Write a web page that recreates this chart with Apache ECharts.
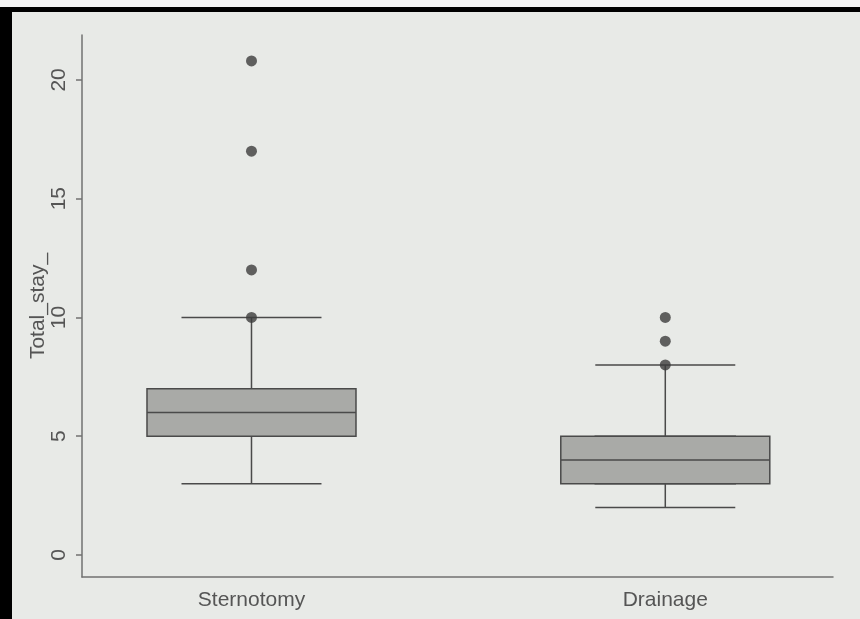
<!DOCTYPE html>
<html>
<head>
<meta charset="utf-8">
<script src="https://cdn.jsdelivr.net/npm/echarts@6/dist/echarts.min.js"></script>
<style>
html,body{margin:0;padding:0;background:#e8eae7;}
#chart{width:860px;height:619px;}
</style>
</head>
<body>
<div id="chart"></div>
<script>
// Data
const categories = ['Sternotomy', 'Drainage'];
const categoryPos = [1, 2];
// [min whisker, Q1, median, Q3, max whisker]
const boxStats = [
  [3, 5, 6, 7, 10],
  [2, 3, 4, 5, 8]
];
const outliersSternotomy = [10, 12, 17, 20.8];
const outliersDrainage = [8, 9, 10];
const yTicks = [0, 5, 10, 15, 20];
const yTitle = 'Total_stay_';

const whiskerData = boxStats.map((s, i) => [categoryPos[i]].concat(s));
const boxData = boxStats.map((s, i) => [categoryPos[i], s[1], s[1], s[2], s[3], s[3]]);
const outlierData = outliersSternotomy.map(v => [categoryPos[0], v])
  .concat(outliersDrainage.map(v => [categoryPos[1], v]));

const textColor = '#555';
const axisColor = '#727272';
const fontFamily = 'Liberation Sans, Arial, sans-serif';
const xMin = 0.5904, xMax = 2.4053;

const chart = echarts.init(document.getElementById('chart'), null, {renderer: 'canvas'});
chart.setOption({
  backgroundColor: '#e8eae7',
  animation: false,
  graphic: [
    {type: 'rect', shape: {x: 0, y: 0, width: 860, height: 7}, style: {fill: '#f4f4f4'}, z: 100},
    {type: 'rect', shape: {x: 0, y: 7, width: 860, height: 5}, style: {fill: '#000'}, z: 100},
    {type: 'rect', shape: {x: 0, y: 7, width: 12, height: 612}, style: {fill: '#000'}, z: 100}
  ],
  grid: {left: 82, right: 27, top: 35, bottom: 42, containLabel: false},
  xAxis: [
    {
      type: 'value', min: xMin, max: xMax,
      axisLine: {show: true, onZero: false, lineStyle: {color: axisColor, width: 1.5}},
      axisTick: {show: false},
      splitLine: {show: false},
      axisLabel: {
        customValues: categoryPos,
        formatter: v => categories[Math.round(v) - 1] || '',
        color: textColor, fontSize: 21, fontFamily: fontFamily, margin: 13
      }
    },
    {
      type: 'value', min: xMin, max: xMax, show: false,
      axisLine: {show: false, onZero: false}, axisTick: {show: false}, axisLabel: {show: false}, splitLine: {show: false}
    }
  ],
  yAxis: {
    type: 'value', min: -0.93, max: 21.89,
    name: yTitle, nameLocation: 'middle', nameGap: 33, nameMoveOverlap: false,
    nameTextStyle: {color: textColor, fontSize: 21, fontFamily: fontFamily},
    axisLine: {show: true, onZero: false, lineStyle: {color: axisColor, width: 1.5}},
    axisTick: {show: true, customValues: yTicks, length: 6, lineStyle: {color: axisColor, width: 1.5}},
    splitLine: {show: false},
    axisLabel: {
      customValues: yTicks, rotate: 90,
      color: textColor, fontSize: 21, fontFamily: fontFamily, margin: 12
    }
  },
  series: [
    {
      type: 'boxplot', xAxisIndex: 1, yAxisIndex: 0,
      data: whiskerData, boxWidth: [140, 140],
      itemStyle: {color: '#a9aaa7', borderColor: '#4a4a4a', borderWidth: 1.5},
      z: 2
    },
    {
      type: 'boxplot', xAxisIndex: 0, yAxisIndex: 0,
      data: boxData, boxWidth: [209, 209],
      itemStyle: {color: '#a9aaa7', borderColor: '#4a4a4a', borderWidth: 1.5},
      z: 3
    },
    {
      type: 'scatter', xAxisIndex: 0, yAxisIndex: 0,
      data: outlierData, symbol: 'circle', symbolSize: 11,
      itemStyle: {color: '#3c3c3c'},
      z: 5
    }
  ]
});
</script>
</body>
</html>
